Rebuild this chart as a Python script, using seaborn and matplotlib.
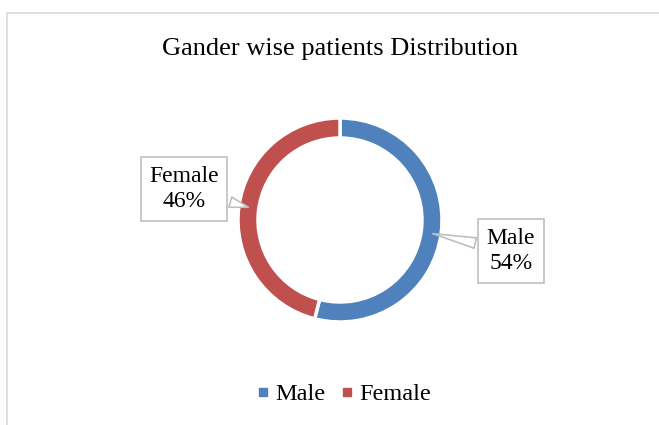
import matplotlib
matplotlib.use("Agg")
import matplotlib.pyplot as plt
import seaborn as sns
from matplotlib.lines import Line2D
from matplotlib.patches import Rectangle

categories = ["Male", "Female"]
values = [54, 46]
colors = ["#4F81BD", "#C0504D"]
title = "Gander wise patients Distribution"

sns.set_style("white")
plt.rcParams["font.family"] = ["Liberation Serif", "DejaVu Serif"]
plt.rcParams["text.color"] = "black"

W, H = 659, 425
fig = plt.figure(figsize=(W / 100, H / 100), dpi=100)
ax = fig.add_axes([0, 0, 1, 1])

wedges, _ = ax.pie(values, colors=colors, startangle=90, counterclock=False,
                   radius=102, center=(340, 205),
                   wedgeprops=dict(width=20, edgecolor="white", linewidth=2.5),
                   frame=True)
ax.set_xlim(0, W)
ax.set_ylim(0, H)
ax.set_aspect("equal")
ax.axis("off")

# outer frame
ax.add_patch(Rectangle((7, -10), W, H - 13 + 10, fill=False, ec="#d9d9d9", lw=1.2,
                       clip_on=False))

ax.text(340, 425 - 49, title, ha="center", va="center", fontsize=19, color="black")

# callouts
label_pos = {"Male": (511, 174), "Female": (184, 236)}
tips = {"Male": (430, 192), "Female": (251, 217)}
for cat, val in zip(categories, values):
    ax.annotate(f"{cat}\n{val}%", xy=tips[cat], xytext=label_pos[cat],
                ha="center", va="center", fontsize=17, linespacing=1.3, color="black",
                bbox=dict(boxstyle="square,pad=0.35", fc="white", ec="#bfbfbf", lw=1.2),
                arrowprops=dict(arrowstyle="wedge,tail_width=0.45,shrink_factor=0.5",
                                fc="white", ec="#bfbfbf", lw=1.2))

handles = [Line2D([0], [0], marker="s", color="w", markerfacecolor=c,
                  markeredgecolor=c, markersize=5.5, linestyle="None") for c in colors]
leg = fig.legend(handles, categories, loc="center", bbox_to_anchor=(341 / W, (H - 394) / H),
                 ncol=2, frameon=False, fontsize=17.5, handletextpad=0.0,
                 columnspacing=0.4, handlelength=1.0)
for t in leg.get_texts():
    t.set_color("black")

fig.savefig("out.png", dpi=100)
